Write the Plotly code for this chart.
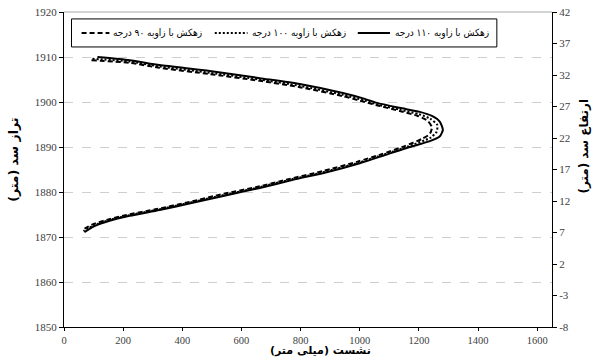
import plotly.graph_objects as go

# Settlement (mm) vs. dam crest elevation (m) for three drain angles
settle_90 = [93, 222, 323, 493, 662, 797, 943, 1017, 1068, 1135, 1196, 1230, 1244, 1237,
             1210, 1152, 1074, 990, 878, 763, 651, 540, 425, 313, 212, 144, 93, 63]
elev_90 = [1909.3, 1908.7, 1907.6, 1906.2, 1904.7, 1903.3, 1901.3, 1900.0, 1899.1, 1898.0,
           1896.9, 1895.8, 1894.4, 1892.9, 1891.8, 1890.2, 1888.4, 1886.7, 1884.7, 1882.9,
           1881.1, 1879.6, 1877.8, 1876.2, 1874.9, 1873.8, 1872.7, 1871.6]

settle_100 = [96, 222, 323, 493, 662, 797, 943, 1017, 1062, 1135, 1200, 1238, 1262, 1260,
              1240, 1162, 1080, 995, 883, 768, 656, 545, 430, 318, 217, 149, 98, 66]
elev_100 = [1909.6, 1909.0, 1907.9, 1906.5, 1905.0, 1903.6, 1901.6, 1900.3, 1899.4, 1898.3,
            1897.3, 1896.3, 1894.9, 1893.4, 1892.1, 1890.1, 1888.3, 1886.5, 1884.5, 1882.8,
            1881.0, 1879.4, 1877.7, 1876.1, 1874.8, 1873.7, 1872.5, 1871.3]

settle_110 = [113, 222, 323, 493, 662, 797, 943, 1017, 1058, 1135, 1203, 1244, 1271, 1281,
              1271, 1237, 1169, 1085, 1000, 888, 774, 662, 550, 435, 323, 222, 154, 103, 69]
elev_110 = [1910.0, 1909.3, 1908.2, 1906.9, 1905.3, 1904.0, 1902.0, 1900.7, 1899.8, 1898.7,
            1897.8, 1896.9, 1895.6, 1893.8, 1892.4, 1891.3, 1890.0, 1888.2, 1886.4, 1884.4,
            1882.7, 1880.9, 1879.3, 1877.6, 1876.0, 1874.7, 1873.6, 1872.4, 1871.1]

# axis tick values / labels
x_ticks = [0, 200, 400, 600, 800, 1000, 1200, 1400, 1600]
height_ticks = [-8, -3, 2, 7, 12, 17, 22, 27, 32, 37, 42]
height_labels = ["-8", "-3", "2", "7", "12", "17", "22", "27", "32", "37", "42"]

legend_90 = "زهکش با زاویه ۹۰ درجه"
legend_100 = "زهکش با زاویه ۱۰۰ درجه"
legend_110 = "زهکش با زاویه ۱۱۰ درجه"

x_title = "نشست (میلی متر)"
y_title = "تراز سد (متر)"
y2_title = "ارتفاع سد (متر)"

serif = "Liberation Serif, Times New Roman, serif"
fa_font = "DejaVu Sans, sans-serif"
fa_cond = "DejaVu Sans Condensed, DejaVu Sans, sans-serif"

DASH = "5px,3px"
DOT = "2px,2px"

fig = go.Figure()
fig.add_trace(go.Scatter(x=settle_90, y=elev_90, mode="lines", name=legend_90,
                         line=dict(color="black", width=2, dash=DASH, shape="spline", smoothing=0.6)))
fig.add_trace(go.Scatter(x=settle_100, y=elev_100, mode="lines", name=legend_100,
                         line=dict(color="black", width=2, dash=DOT, shape="spline", smoothing=0.6)))
fig.add_trace(go.Scatter(x=settle_110, y=elev_110, mode="lines", name=legend_110,
                         line=dict(color="black", width=2, dash="solid", shape="spline", smoothing=0.6)))
# empty trace so the secondary (height) axis is drawn
fig.add_trace(go.Scatter(x=[], y=[], yaxis="y2", showlegend=False, hoverinfo="skip"))

tick_font = dict(family=serif, size=11, color="#404040")
x_tick_font = dict(family=serif, size=10.5, color="#404040")

fig.update_layout(
    width=597, height=360,
    margin=dict(l=64, r=45, t=12, b=33, autoexpand=False),
    paper_bgcolor="white", plot_bgcolor="white",
    showlegend=False,
    xaxis=dict(range=[0, 1650], tickvals=x_ticks,
               showgrid=False, zeroline=False, automargin=False,
               showline=True, linecolor="black", linewidth=1,
               ticks="outside", ticklen=3, tickcolor="black", tickfont=x_tick_font),
    yaxis=dict(range=[1850, 1920], dtick=10, tick0=1850, showgrid=True,
               gridcolor="#cfcfcf", griddash="dash", gridwidth=1, zeroline=False,
               automargin=False, showline=True, linecolor="black", linewidth=1,
               ticks="outside", ticklen=4, tickcolor="black", tickfont=tick_font),
    yaxis2=dict(range=[-8, 42], tickvals=height_ticks, ticktext=height_labels,
                overlaying="y", side="right",
                showgrid=False, zeroline=False, automargin=False, showline=True,
                linecolor="black", linewidth=1, ticks="outside", ticklen=4,
                tickcolor="black", tickfont=tick_font),
)

# plot-area top border
fig.add_shape(type="line", xref="paper", yref="paper", x0=0, x1=1, y0=1, y1=1,
              line=dict(color="#a6a6a6", width=1))

# axis titles
fig.add_annotation(text="<b>%s</b>" % x_title, xref="paper", yref="paper",
                   x=0.526, y=-0.103, yanchor="bottom", showarrow=False,
                   font=dict(family=fa_font, size=11, color="black"))
fig.add_annotation(text="<b>%s</b>" % y_title, xref="paper", yref="paper",
                   x=-0.105, y=0.53, xanchor="center", textangle=-90,
                   showarrow=False, font=dict(family=fa_font, size=12.5, color="black"))
fig.add_annotation(text="<b>%s</b>" % y2_title, xref="paper", yref="paper",
                   x=1.065, y=0.575, xanchor="center", textangle=-90,
                   showarrow=False, font=dict(family=fa_font, size=12, color="black"))

# legend box drawn inside the plot area
fig.add_shape(type="rect", xref="paper", yref="paper", x0=0.0154, x1=0.887,
              y0=0.889, y1=0.978, line=dict(color="black", width=1),
              fillcolor="white", layer="above")

leg_y = 0.933
leg_font = dict(family=fa_cond, size=10, color="black")
items = [
    (legend_110, "solid", 0.602, 0.668, 0.875),
    (legend_100, DOT, 0.309, 0.376, 0.581),
    (legend_90, DASH, 0.036, 0.093, 0.286),
]
for label, dash, lx0, lx1, tx in items:
    fig.add_shape(type="line", xref="paper", yref="paper", x0=lx0, x1=lx1,
                  y0=leg_y, y1=leg_y, line=dict(color="black", width=2, dash=dash),
                  layer="above")
    fig.add_annotation(text=label, xref="paper", yref="paper", x=tx, y=leg_y,
                       xanchor="right", yanchor="middle", showarrow=False,
                       font=leg_font)

fig.write_html("out.html")
